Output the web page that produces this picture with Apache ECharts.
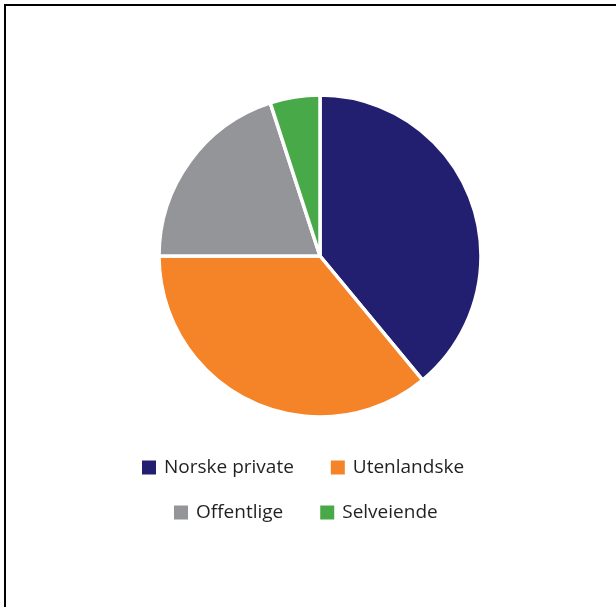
<!DOCTYPE html>
<html>
<head>
<meta charset="utf-8">
<script src="https://cdn.jsdelivr.net/npm/echarts@6/dist/echarts.min.js"></script>
<style>
html,body{margin:0;padding:0;background:#fff;}
#c{width:616px;height:607px;}
</style>
</head>
<body>
<div id="c"></div>
<script>
const categories = ['Norske private', 'Utenlandske', 'Offentlige', 'Selveiende'];
const values = [39, 36, 20, 5];
const colors = ['#231F70', '#F48427', '#939598', '#48A948'];

const chart = echarts.init(document.getElementById('c'));
const font = '"Open Sans", "DejaVu Sans", sans-serif';
const legendCommon = {
  icon: 'rect',
  itemWidth: 16,
  itemHeight: 16,
  itemGap: 35,
  padding: 0,
  selectedMode: false,
  textStyle: { fontFamily: font, fontSize: 19, color: '#231F20', padding: [0, 0, 0, 2] }
};
chart.setOption({
  animation: false,
  color: colors,
  graphic: [{
    type: 'rect',
    shape: { x: 5, y: 5, width: 700, height: 700 },
    style: { fill: 'none', stroke: '#000', lineWidth: 2 }
  }],
  legend: [
    Object.assign({}, legendCommon, { left: 140, top: 458, data: categories.slice(0, 2) }),
    Object.assign({}, legendCommon, { left: 172, top: 503, data: categories.slice(2, 4) })
  ],
  series: [{
    type: 'pie',
    center: [320, 256],
    radius: [0, 161],
    startAngle: 90,
    clockwise: true,
    label: { show: false },
    labelLine: { show: false },
    emphasis: { disabled: true },
    itemStyle: { borderColor: '#fff', borderWidth: 3.5 },
    data: categories.map((n, i) => ({ name: n, value: values[i] }))
  }]
});
</script>
</body>
</html>
